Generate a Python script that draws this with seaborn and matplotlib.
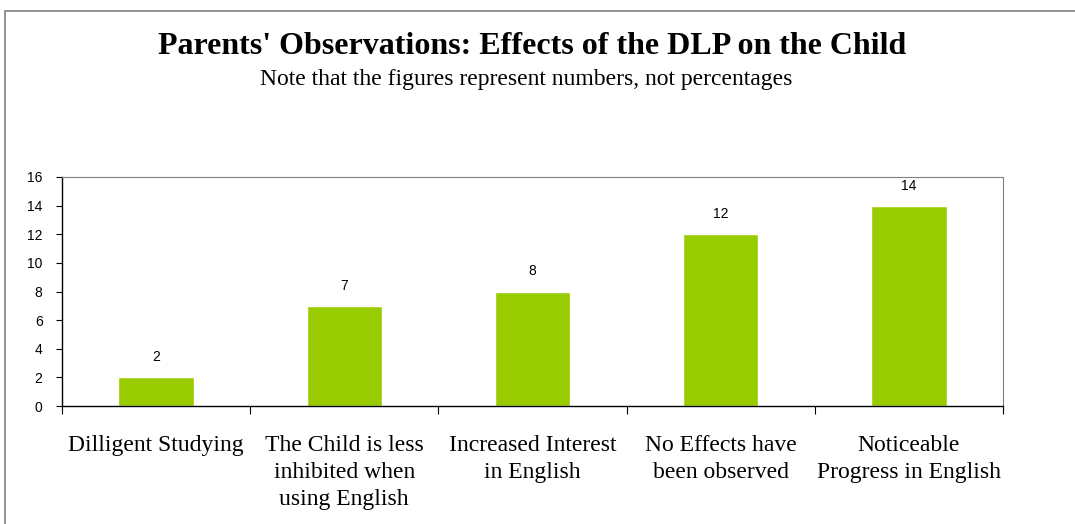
import numpy as np
import pandas as pd
import seaborn as sns
import matplotlib.pyplot as plt
from matplotlib.patches import Rectangle

# ------------------------------- DONNEES -------------------------------
categories = ["Dilligent Studying",
              "The Child is less\ninhibited when\nusing English",
              "Increased Interest\nin English",
              "No Effects have\nbeen observed",
              "Noticeable\nProgress in English"]
valeurs = [2, 7, 8, 12, 14]
yticks = [0, 2, 4, 6, 8, 10, 12, 14, 16]

df = pd.DataFrame({"cat": categories, "val": valeurs})

# ------------------------------- AFFICHAGE -----------------------------
sns.set_style("white")
plt.rcParams['font.family'] = ['Liberation Sans', 'DejaVu Sans']
plt.rcParams['text.color'] = "black"
plt.rcParams['ytick.color'] = "black"
plt.rcParams['xtick.color'] = "black"

fig = plt.figure(figsize=(10.75, 5.24), dpi=100)
ax = fig.add_axes([62/1075, 1-406/524, (1003-62)/1075, (406-177)/524])

sns.barplot(data=df, x="cat", y="val", color="#99CC00", width=0.4,
            saturation=1, ax=ax)

ax.set_ylim(0, 16)
ax.set_xlim(-0.5, len(categories)-0.5)
ax.set_yticks(yticks)
ax.set_yticklabels([str(v) for v in yticks], fontsize=10)
ax.tick_params(axis="y", length=4, width=0.8, direction="out", pad=10, left=True)

# ticks x entre les categories
ax.set_xticks(np.arange(-0.5, len(categories), 1.0))
ax.set_xticklabels([])
ax.tick_params(axis="x", length=6, width=0.8, direction="out", bottom=True)
for i, c in enumerate(categories):
    ax.text(i, -2.05, c, ha="center", va="top", fontsize=17,
            family=["Liberation Serif"], linespacing=1.37)

for i, v in enumerate(valeurs):
    ax.text(i, v + 1.4, str(v), ha="center", va="center", fontsize=10)

ax.set_xlabel("")
ax.set_ylabel("")
for s in ["top", "right"]:
    ax.spines[s].set_color("#808080")
    ax.spines[s].set_linewidth(0.8)
for s in ["left", "bottom"]:
    ax.spines[s].set_color("black")
    ax.spines[s].set_linewidth(1)

fig.text(532/1075, 1-46/524, "Parents' Observations: Effects of the DLP on the Child",
         ha="center", va="center", fontsize=23, fontweight="bold",
         family=["Liberation Serif"])
fig.text(526/1075, 1-79/524, "Note that the figures represent numbers, not percentages",
         ha="center", va="center", fontsize=17, family=["Liberation Serif"])

# cadre exterieur
fig.patches.append(Rectangle((5/1075, -0.1), 1.2, 1.1 - 11/524,
                             transform=fig.transFigure, fill=False,
                             edgecolor="#808080", linewidth=1.2))

fig.savefig("out.png", dpi=100)
